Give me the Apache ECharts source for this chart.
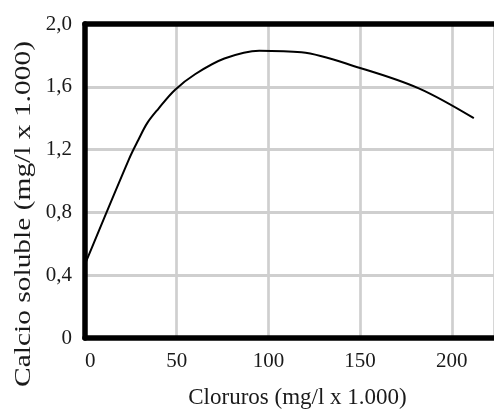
<!DOCTYPE html>
<html>
<head>
<meta charset="utf-8">
<script src="https://cdn.jsdelivr.net/npm/echarts@6/dist/echarts.min.js"></script>
<style>
  html, body { margin: 0; padding: 0; background: #fff; }
  #chart { width: 494px; height: 410px; }
</style>
</head>
<body>
<div id="chart"></div>
<script>
// Chloride concentration (mg/l x 1.000) and soluble calcium (mg/l x 1.000)
const cloruros = [0, 24, 29, 34, 40, 49, 60, 76, 95, 118, 150, 182, 212];
const calcio   = [0.47, 1.14, 1.26, 1.37, 1.46, 1.58, 1.68, 1.78, 1.83, 1.82, 1.72, 1.59, 1.40];

const xTicks = [0, 50, 100, 150, 200];
const yTicks = [0, 0.4, 0.8, 1.2, 1.6, 2.0];

const xTitle = 'Cloruros (mg/l x 1.000)';
const yTitle = 'Calcio soluble (mg/l x 1.000)';

const serif = '"Liberation Serif", "Times New Roman", serif';
const ink = '#1a1a1a';

const points = cloruros.map((c, i) => [c, calcio[i]]);

const chart = echarts.init(document.getElementById('chart'), null, { renderer: 'canvas' });

chart.setOption({
  animation: false,
  backgroundColor: '#fff',
  grid: { left: 85, right: 0, top: 24, bottom: 72, containLabel: false, outerBoundsMode: 'none' },
  xAxis: [
    {
      type: 'value',
      min: 0,
      max: 223,
      interval: 50,
      name: xTitle,
      nameLocation: 'middle',
      nameGap: 48,
      nameTextStyle: { fontFamily: serif, fontSize: 23, color: ink, padding: [0, 0, 0, 16] },
      axisLine: { show: true, onZero: false, lineStyle: { color: '#000', width: 5.5 } },
      axisTick: { show: false },
      axisLabel: {
        fontFamily: serif, fontSize: 21, color: ink, margin: 13,
        showMaxLabel: false,
        alignMinLabel: 'left',
        formatter: v => (xTicks.indexOf(v) >= 0 ? String(v) : '')
      },
      splitLine: { show: true, lineStyle: { color: '#cfcfcf', width: 2.7 } }
    },
    {
      // heavy frame line along the top edge of the plot
      type: 'value',
      position: 'top',
      min: 0,
      max: 223,
      axisLine: { show: true, onZero: false, lineStyle: { color: '#000', width: 5.5 } },
      axisTick: { show: false },
      axisLabel: { show: false },
      splitLine: { show: false }
    }
  ],
  yAxis: {
    type: 'value',
    min: 0,
    max: 2.0,
    interval: 0.4,
    axisLine: { show: true, onZero: false, lineStyle: { color: '#000', width: 5.5 } },
    axisTick: { show: false },
    axisLabel: {
      fontFamily: serif, fontSize: 21, color: ink, margin: 13,
      formatter: v => {
        const t = yTicks.find(k => Math.abs(k - v) < 1e-9);
        if (t === undefined) return '';
        return t === 0 ? '0' : t.toFixed(1).replace('.', ',');
      }
    },
    splitLine: { show: true, lineStyle: { color: '#cfcfcf', width: 3 } }
  },
  graphic: [
    {
      type: 'text',
      x: 24,
      y: 214,
      rotation: Math.PI / 2,
      scaleX: 1.28,
      style: {
        text: yTitle,
        fontFamily: serif,
        fontSize: 23,
        fill: ink,
        align: 'center',
        verticalAlign: 'middle'
      }
    }
  ],
  series: [
    {
      type: 'line',
      xAxisIndex: 0,
      data: points,
      showSymbol: false,
      smooth: 0.35,
      clip: false,
      lineStyle: { color: '#000', width: 2 }
    }
  ]
});
</script>
</body>
</html>
